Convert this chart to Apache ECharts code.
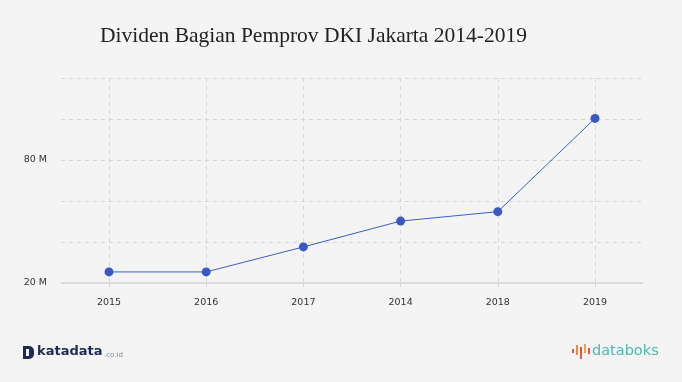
<!DOCTYPE html>
<html><head><meta charset="utf-8">
<script src="https://cdn.jsdelivr.net/npm/echarts@6/dist/echarts.min.js"></script>
<style>html,body{margin:0;padding:0;background:#f4f4f4}#c{width:682px;height:382px}</style>
</head><body><div id="c"></div>
<script>
const categories = ['2015','2016','2017','2014','2018','2019'];
const values = [25.4, 25.4, 37.6, 50.2, 54.8, 100.3];
const yTickLabels = {20: '20 M', 80: '80 M'};
const titleText = 'Dividen Bagian Pemprov DKI Jakarta 2014-2019';

const chart = echarts.init(document.getElementById('c'));
const dash = {color: '#d6d6d6', width: 1, type: [4, 4]};
chart.setOption({
  backgroundColor: '#f4f4f4',
  animation: false,
  title: {text: titleText, left: 95, top: 20, textStyle: {fontFamily: 'Liberation Serif', fontSize: 21.5, fontWeight: 'normal', color: '#222'}},
  grid: [
    {left: 61, right: 39, top: 78, bottom: 99},
    {left: 109, right: 87, top: 78, bottom: 99}
  ],
  xAxis: [
    {gridIndex: 0, type: 'value', min: 0, max: 1, show: false},
    {gridIndex: 1, type: 'category', data: categories, boundaryGap: false,
     axisLine: {show: false},
     axisTick: {show: true, length: 7, lineStyle: {color: '#d6d6d6', type: [4, 4]}},
     splitLine: {show: true, lineStyle: dash},
     axisLabel: {margin: 15, fontFamily: 'DejaVu Sans', fontSize: 9.5, color: '#333'}}
  ],
  yAxis: [
    {gridIndex: 0, type: 'value', min: 20, max: 120, interval: 20,
     axisLine: {show: false}, axisTick: {show: false},
     splitLine: {show: true, lineStyle: dash},
     axisLabel: {margin: 14, fontFamily: 'DejaVu Sans', fontSize: 9.5, color: '#333',
       formatter: v => yTickLabels[v] || ''}},
    {gridIndex: 1, type: 'value', min: 20, max: 120, interval: 20, show: false}
  ],
  series: [{
    type: 'line', xAxisIndex: 1, yAxisIndex: 1, data: values,
    symbol: 'circle', symbolSize: 9,
    lineStyle: {color: '#3d5ec9', width: 1},
    itemStyle: {color: '#3a59c4'}
  }],
  graphic: [
    {type: 'line', shape: {x1: 61, y1: 283, x2: 643, y2: 283}, style: {stroke: '#dcdcdc', lineWidth: 2}, z: 1},
    {type: 'rect', shape: {x: 23, y: 346, width: 11, height: 13, r: [0, 5, 5, 0]}, style: {fill: '#1e2a57'}},
    {type: 'rect', shape: {x: 26, y: 349, width: 3, height: 7}, style: {fill: '#f4f4f4'}},
    {type: 'text', left: 37, top: 345, style: {text: 'katadata', font: 'bold 13px "DejaVu Sans"', fill: '#1e2a57'}},
    {type: 'text', left: 104, top: 352, style: {text: '.co.id', font: '7px "DejaVu Sans"', fill: '#7a8a9a'}},
    {type: 'rect', shape: {x: 572, y: 349, width: 2, height: 4}, style: {fill: '#e8553f'}},
    {type: 'rect', shape: {x: 576, y: 345, width: 2, height: 10}, style: {fill: '#f0883a'}},
    {type: 'rect', shape: {x: 580, y: 347, width: 2, height: 12}, style: {fill: '#e8553f'}},
    {type: 'rect', shape: {x: 584, y: 344, width: 2, height: 9}, style: {fill: '#f0a23a'}},
    {type: 'rect', shape: {x: 588, y: 348, width: 2, height: 6}, style: {fill: '#e8553f'}},
    {type: 'text', left: 592, top: 344, style: {text: 'databoks', font: '14.5px "DejaVu Sans"', fill: '#4cb8b3'}}
  ]
});
</script></body></html>
